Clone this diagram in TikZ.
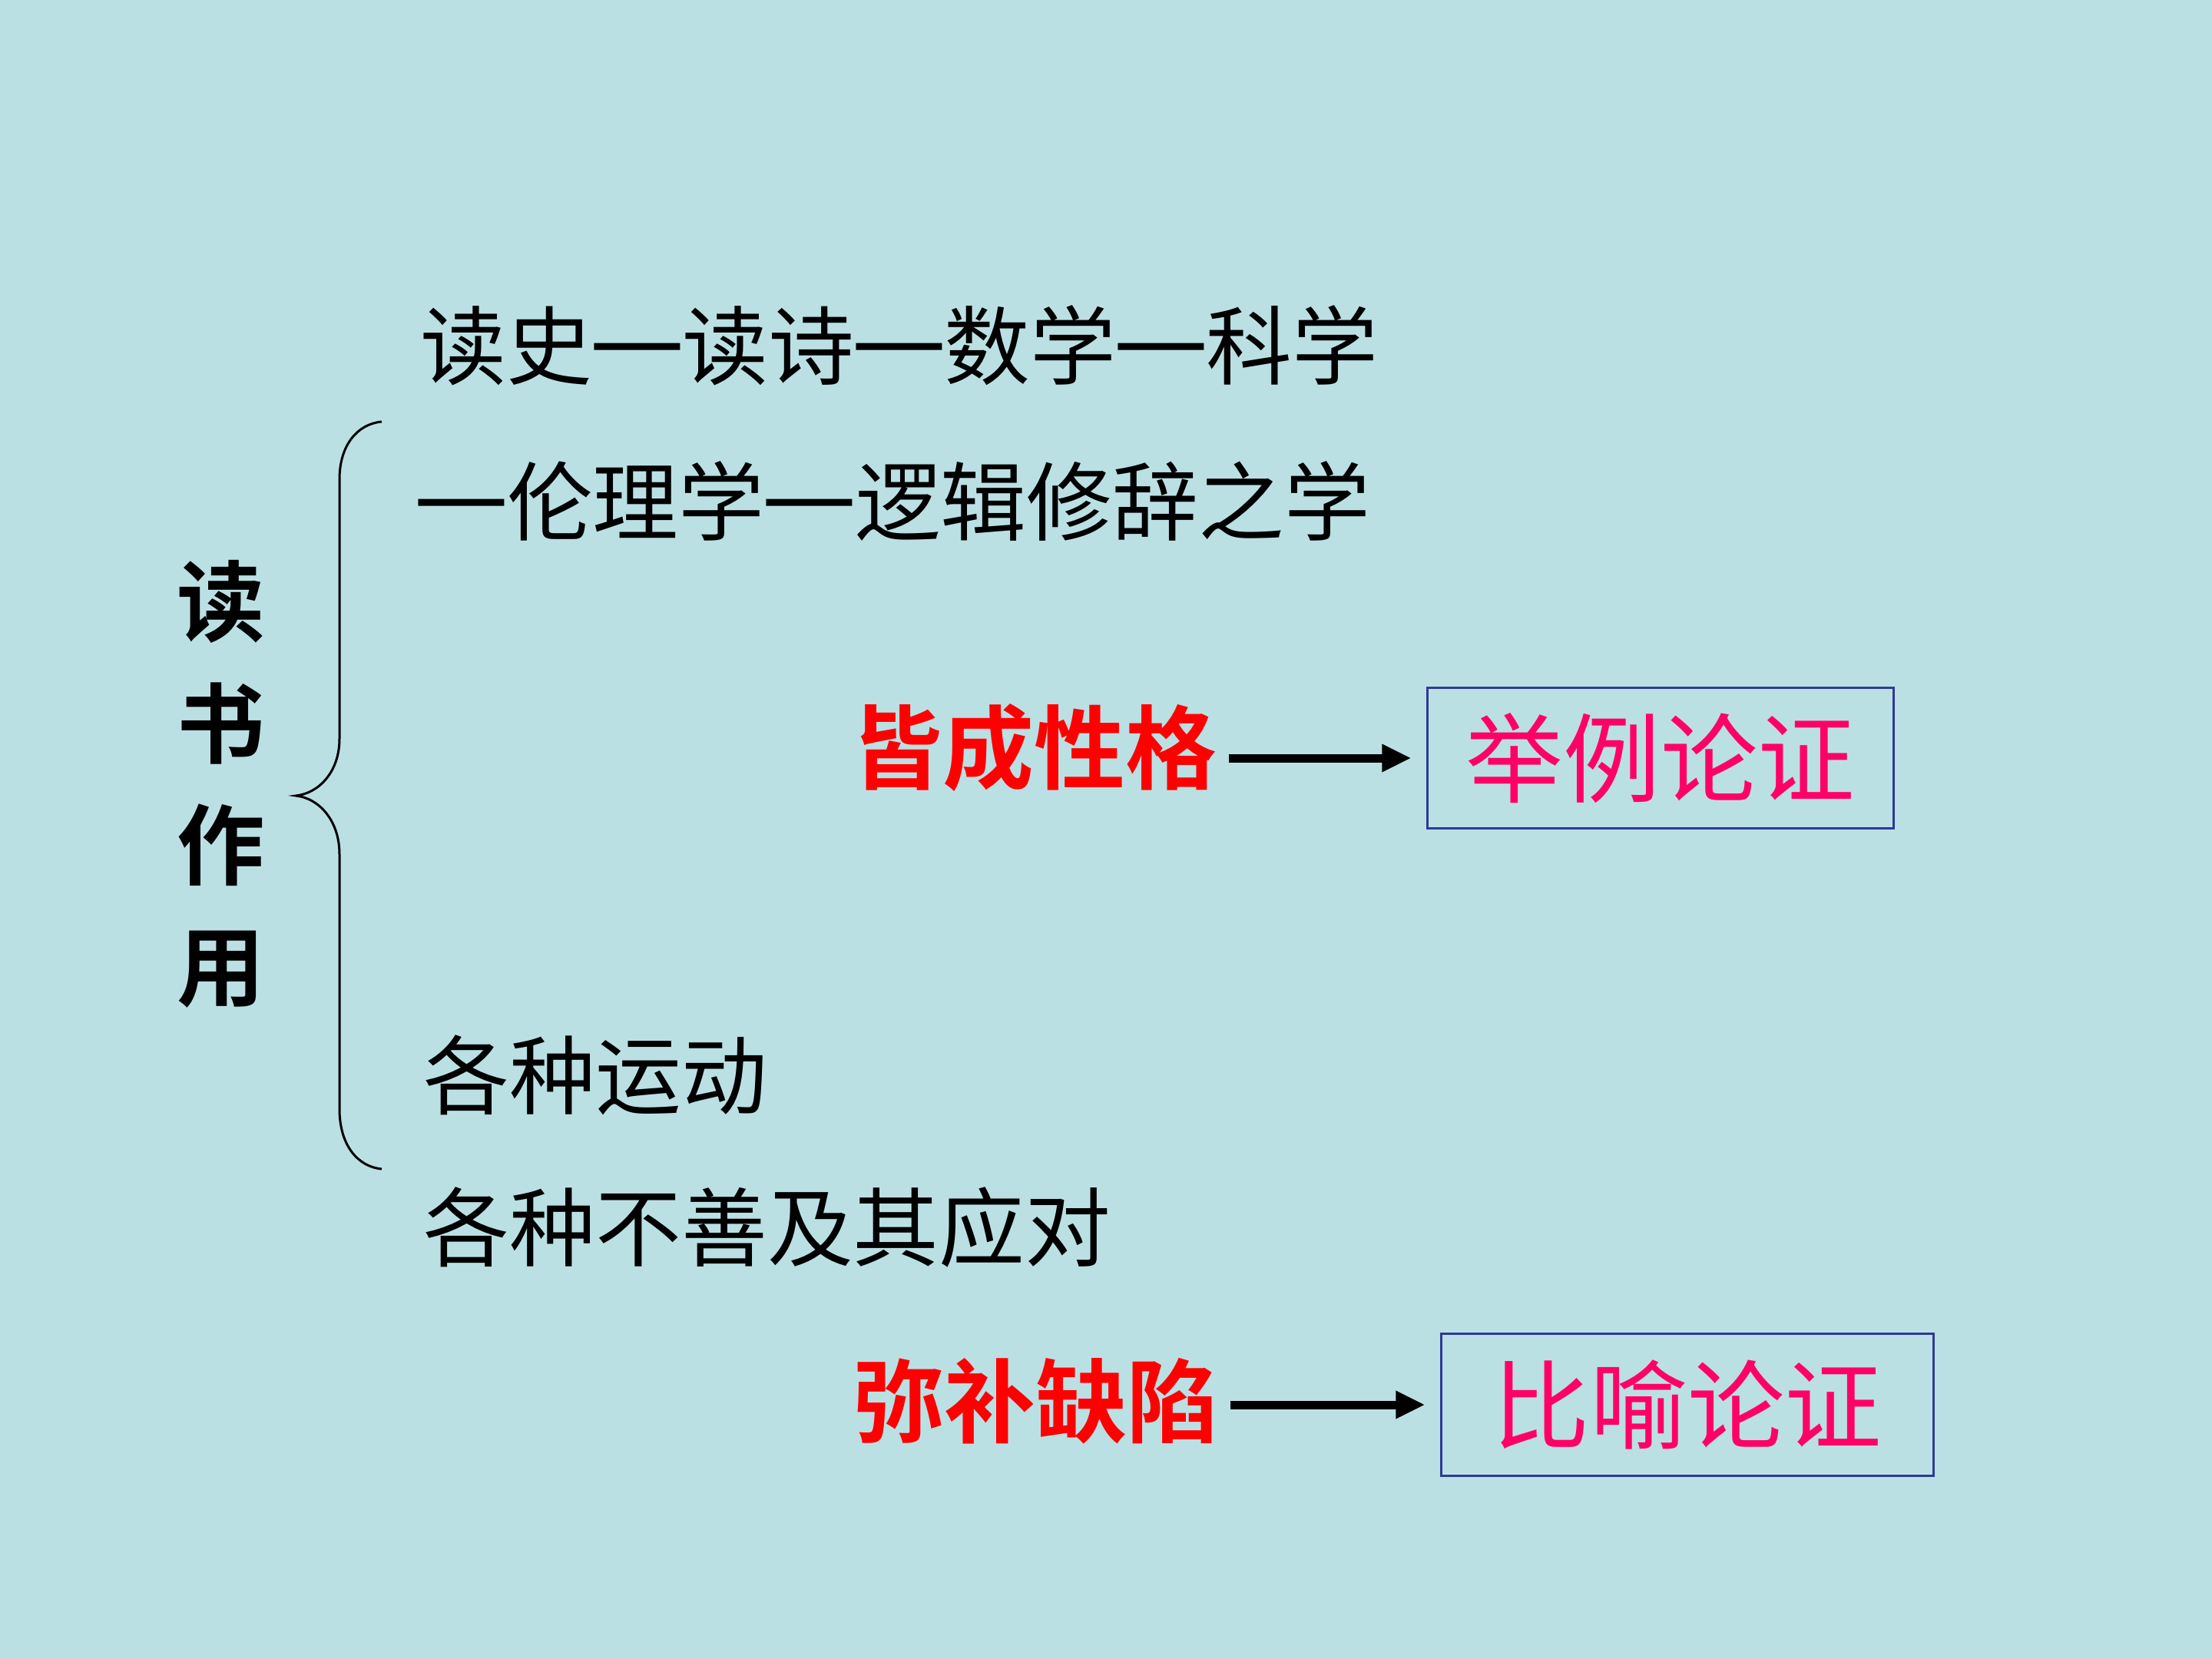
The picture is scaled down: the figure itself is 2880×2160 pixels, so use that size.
\documentclass[tikz,border=0pt]{standalone}
\usepackage{fontspec}
\usepackage{graphicx}
\usetikzlibrary{arrows.meta}
\newfontfamily\cjk{Noto Sans CJK SC}
\newfontfamily\cjkb{Noto Sans CJK SC Bold}
\definecolor{bgc}{RGB}{187,224,228}
\definecolor{pinkc}{RGB}{255,0,102}
\definecolor{boxc}{RGB}{46,58,150}
\newcommand{\wdash}{\makebox[1.05em]{\scalebox{1.25}[1.3]{—}}}
\tikzset{
  txt/.style={font=\cjk\fontsize{31.8}{38}\selectfont, inner sep=0pt, anchor=west, text=black},
  key/.style={font=\cjkb\fontsize{33.8}{40}\selectfont, inner sep=0pt, anchor=west, text=red},
  resbox/.style={draw=boxc, line width=0.03cm, text=pinkc, font=\cjk\fontsize{36}{42}\selectfont, inner sep=0pt},
  arr/.style={line width=0.11cm, -{Triangle[length=0.38cm,width=0.34cm]}},
  bracestyle/.style={line width=0.03cm, black}
}
\begin{document}
\begin{tikzpicture}[x=0.01cm, y=-0.01cm]
\fill[bgc] (0,0) rectangle (2880,2160);
\node[txt] (l1) at (547,450) {读史\wdash 读诗\wdash 数学\wdash 科学};
\node[txt] (l2) at (542,652) {\wdash 伦理学\wdash 逻辑修辞之学};
\node[txt] (l3) at (551,1400) {各种运动};
\node[txt] (l4) at (551,1598) {各种不善及其应对};
\node[font=\cjkb\fontsize{32.5}{45}\selectfont, align=center, inner sep=0pt] (title) at (288,1021) {读\\书\\作\\用};
\node[key] (k1) at (1108,973) {皆成性格};
\node[key] (k2) at (1110,1824) {弥补缺陷};
\node[resbox, minimum width=6.06cm, minimum height=1.82cm] (b1) at (2162,987) {举例论证};
\node[resbox, minimum width=6.40cm, minimum height=1.84cm] (b2) at (2197,1829) {比喻论证};
\draw[arr, shorten <=0.15cm, shorten >=0.2cm] (k1.east |- b1.west) -- (b1.west);
\draw[arr, shorten <=0.15cm, shorten >=0.2cm] (k2.east |- b2.west) -- (b2.west);
\draw[bracestyle] (497,549) .. controls (465,552) and (442,580) .. (442,624) -- (442,962)
  .. controls (442,1005) and (415,1033) .. (385,1036)
  .. controls (415,1039) and (442,1068) .. (442,1112) -- (442,1444)
  .. controls (442,1490) and (465,1519) .. (497,1522);
\end{tikzpicture}
\end{document}
